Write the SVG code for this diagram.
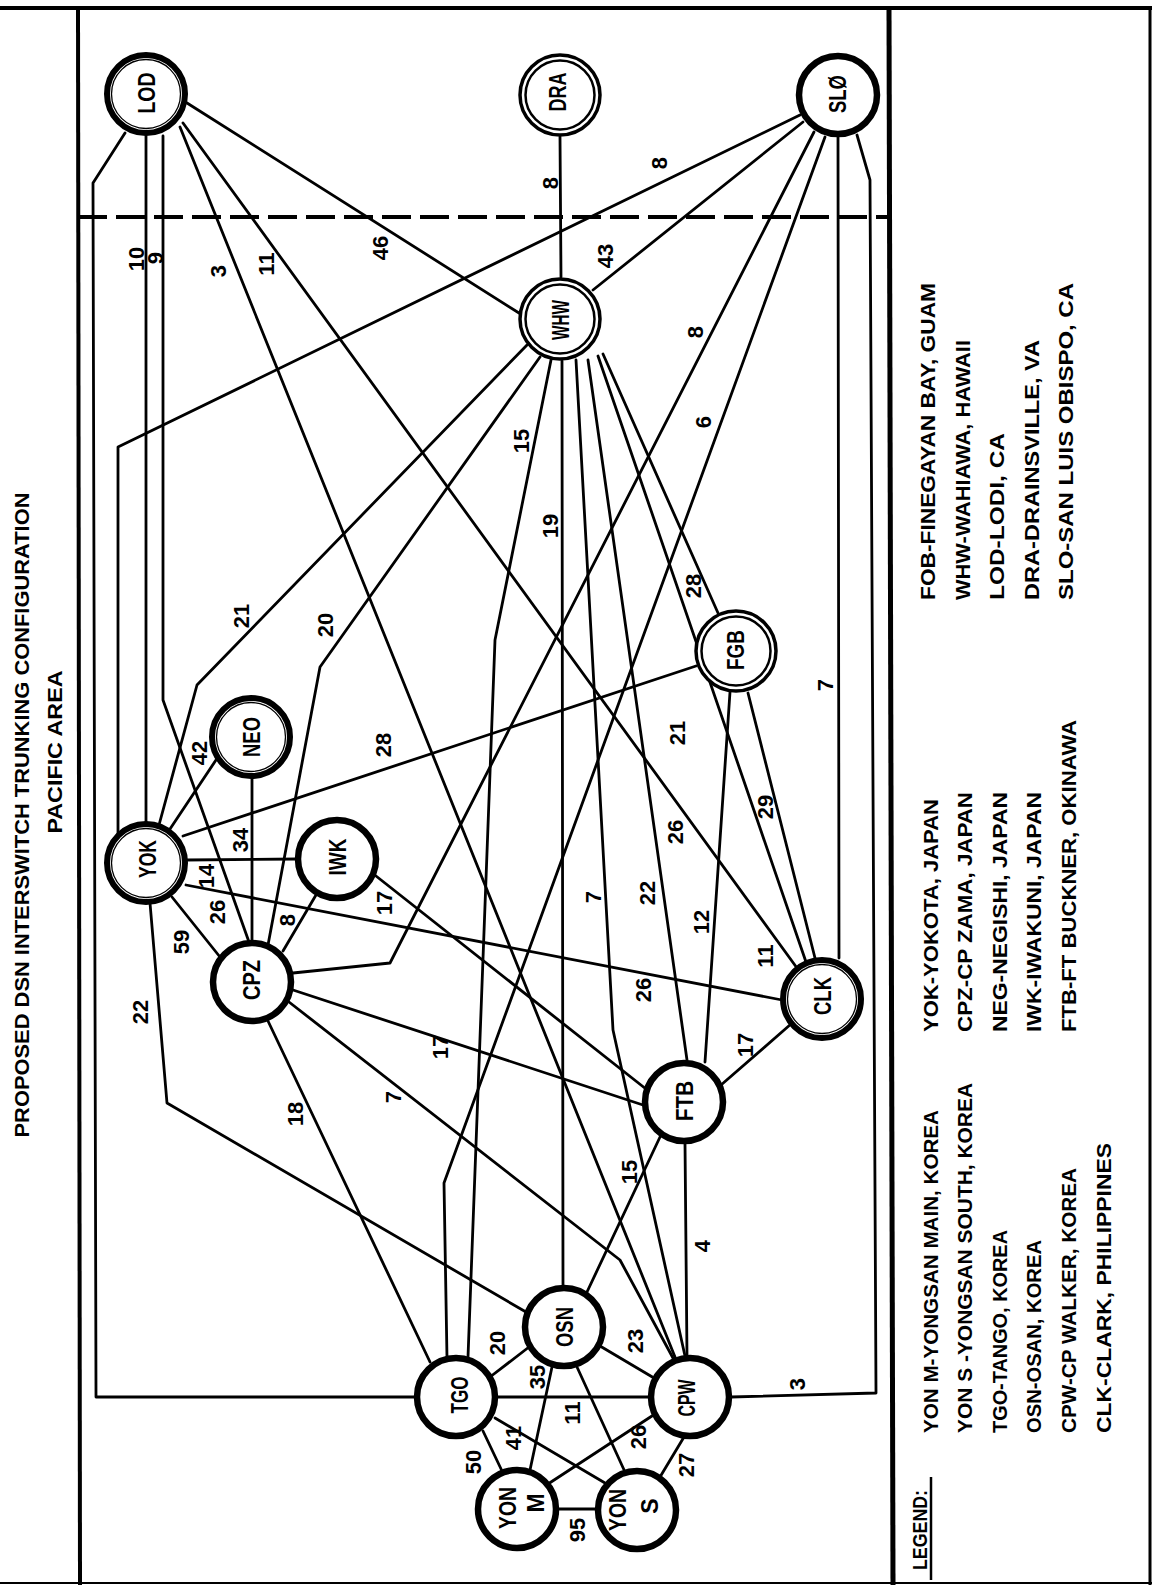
<svg xmlns="http://www.w3.org/2000/svg" width="1152" height="1585" viewBox="0 0 1152 1585">
<style>
.f{fill:none;stroke:#000;stroke-width:4}
.e{fill:none;stroke:#000;stroke-width:2.8;stroke-linejoin:round;stroke-linecap:round}
.ra{fill:#fff;stroke:#000;stroke-width:6}
.ri{fill:none;stroke:#000;stroke-width:1.3}
.rb{fill:#fff;stroke:#000;stroke-width:3.5}
.rbi{fill:none;stroke:#000;stroke-width:2.5}
.rc{fill:#fff;stroke:#000;stroke-width:6.5}
text{font-family:"Liberation Sans",Arial,sans-serif;font-weight:bold;font-size:21px;fill:#000}
.c{text-anchor:middle;dominant-baseline:central}
.n{font-size:23px}
.l{font-size:22px}
</style>
<rect width="1152" height="1585" fill="#fff"/>
<g id="frame">
<line class="f" x1="0" y1="8" x2="1152" y2="8"/>
<line class="f" x1="78" y1="8" x2="80" y2="1585"/>
<line class="f" x1="889" y1="8" x2="893" y2="1585" style="stroke-width:5"/>
<line class="f" x1="1150" y1="8" x2="1150" y2="1585" style="stroke-width:3"/>
<line class="f" x1="0" y1="1583" x2="1152" y2="1583" style="stroke-width:2"/>
<line class="f" x1="78" y1="217" x2="889" y2="217" stroke-dasharray="29 9"/>
</g>
<g id="title">
<text class="c" x="21" y="815" transform="rotate(-90 21 815)" textLength="645" lengthAdjust="spacingAndGlyphs" style="font-weight:600">PROPOSED DSN INTERSWITCH TRUNKING CONFIGURATION</text>
<text class="c" x="54" y="752" transform="rotate(-90 54 752)" textLength="163" lengthAdjust="spacingAndGlyphs" style="font-weight:600">PACIFIC AREA</text>
</g>
<g id="connectors">
<polyline class="e" points="125,133 93,183 96,1397 416,1397"/>
<polyline class="e" points="146,136 146,823"/>
<polyline class="e" points="163,136 163,700 249,942"/>
<polyline class="e" points="180,127 675,1357"/>
<polyline class="e" points="183,123 797,968"/>
<polyline class="e" points="187,103 519,313"/>
<polyline class="e" points="560,137 561,277"/>
<polyline class="e" points="803,122 593,290"/>
<polyline class="e" points="800,115 118,447 118,834"/>
<polyline class="e" points="814,132 390,963 293,973"/>
<polyline class="e" points="825,137 444,1183 447,1358"/>
<polyline class="e" points="838,137 839,958"/>
<polyline class="e" points="857,135 870,180 876,1393 731,1397"/>
<polyline class="e" points="527,345 197,685 159,825"/>
<polyline class="e" points="540,357 320,667 268,945"/>
<polyline class="e" points="551,360 495,640 468,1357"/>
<polyline class="e" points="562,361 563,1286"/>
<polyline class="e" points="576,360 613,1030 685,1356"/>
<polyline class="e" points="588,360 687,1060"/>
<polyline class="e" points="598,356 806,962"/>
<polyline class="e" points="603,354 718,613"/>
<polyline class="e" points="696,666 183,836"/>
<polyline class="e" points="218,757 170,829"/>
<polyline class="e" points="252,779 252,941"/>
<polyline class="e" points="186,860 297,859"/>
<polyline class="e" points="172,897 220,957"/>
<polyline class="e" points="186,885 782,1000"/>
<polyline class="e" points="316,895 283,951"/>
<polyline class="e" points="376,876 646,1089"/>
<polyline class="e" points="293,990 643,1105"/>
<polyline class="e" points="268,1021 430,1362"/>
<polyline class="e" points="289,1002 620,1260 673,1358"/>
<polyline class="e" points="150,903 167,1103 526,1312"/>
<polyline class="e" points="587,1292 660,1137"/>
<polyline class="e" points="685,1143 687,1356"/>
<polyline class="e" points="721,1085 791,1024"/>
<polyline class="e" points="730,692 705,1062"/>
<polyline class="e" points="748,693 815,958"/>
<polyline class="e" points="490,1377 529,1347"/>
<polyline class="e" points="497,1397 649,1397"/>
<polyline class="e" points="600,1346 654,1378"/>
<polyline class="e" points="552,1367 530,1470"/>
<polyline class="e" points="577,1367 625,1472"/>
<polyline class="e" points="483,1431 502,1471"/>
<polyline class="e" points="495,1418 605,1483"/>
<polyline class="e" points="655,1414 548,1484"/>
<polyline class="e" points="684,1437 660,1477"/>
<polyline class="e" points="557,1509 597,1509"/>
</g>
<g id="edge-labels" class="l">
<text class="c l" x="136" y="259" transform="rotate(-90 136 259)">10</text>
<text class="c l" x="155" y="258" transform="rotate(-90 155 258)">9</text>
<text class="c l" x="218" y="271" transform="rotate(-90 218 271)">3</text>
<text class="c l" x="266" y="264" transform="rotate(-90 266 264)">11</text>
<text class="c l" x="380" y="248" transform="rotate(-90 380 248)">46</text>
<text class="c l" x="550" y="183" transform="rotate(-90 550 183)">8</text>
<text class="c l" x="659" y="163" transform="rotate(-90 659 163)">8</text>
<text class="c l" x="605" y="256" transform="rotate(-90 605 256)">43</text>
<text class="c l" x="695" y="332" transform="rotate(-90 695 332)">8</text>
<text class="c l" x="703" y="422" transform="rotate(-90 703 422)">6</text>
<text class="c l" x="521" y="441" transform="rotate(-90 521 441)">15</text>
<text class="c l" x="550" y="526" transform="rotate(-90 550 526)">19</text>
<text class="c l" x="693" y="586" transform="rotate(-90 693 586)">28</text>
<text class="c l" x="677" y="733" transform="rotate(-90 677 733)">21</text>
<text class="c l" x="765" y="807" transform="rotate(-90 765 807)">29</text>
<text class="c l" x="241" y="616" transform="rotate(-90 241 616)">21</text>
<text class="c l" x="325" y="625" transform="rotate(-90 325 625)">20</text>
<text class="c l" x="199" y="753" transform="rotate(-90 199 753)">42</text>
<text class="c l" x="383" y="745" transform="rotate(-90 383 745)">28</text>
<text class="c l" x="240" y="840" transform="rotate(-90 240 840)">34</text>
<text class="c l" x="206" y="876" transform="rotate(-90 206 876)">14</text>
<text class="c l" x="181" y="942" transform="rotate(-90 181 942)">59</text>
<text class="c l" x="217" y="912" transform="rotate(-90 217 912)">26</text>
<text class="c l" x="287" y="920" transform="rotate(-90 287 920)">8</text>
<text class="c l" x="384" y="903" transform="rotate(-90 384 903)">17</text>
<text class="c l" x="140" y="1012" transform="rotate(-90 140 1012)">22</text>
<text class="c l" x="295" y="1114" transform="rotate(-90 295 1114)">18</text>
<text class="c l" x="393" y="1097" transform="rotate(-90 393 1097)">7</text>
<text class="c l" x="440" y="1047" transform="rotate(-90 440 1047)">17</text>
<text class="c l" x="593" y="897" transform="rotate(-90 593 897)">7</text>
<text class="c l" x="647" y="893" transform="rotate(-90 647 893)">22</text>
<text class="c l" x="675" y="832" transform="rotate(-90 675 832)">26</text>
<text class="c l" x="701" y="922" transform="rotate(-90 701 922)">12</text>
<text class="c l" x="765" y="956" transform="rotate(-90 765 956)">11</text>
<text class="c l" x="643" y="990" transform="rotate(-90 643 990)">26</text>
<text class="c l" x="745" y="1045" transform="rotate(-90 745 1045)">17</text>
<text class="c l" x="629" y="1172" transform="rotate(-90 629 1172)">15</text>
<text class="c l" x="702" y="1246" transform="rotate(-90 702 1246)">4</text>
<text class="c l" x="497" y="1343" transform="rotate(-90 497 1343)">20</text>
<text class="c l" x="635" y="1341" transform="rotate(-90 635 1341)">23</text>
<text class="c l" x="537" y="1377" transform="rotate(-90 537 1377)">35</text>
<text class="c l" x="572" y="1413" transform="rotate(-90 572 1413)">11</text>
<text class="c l" x="513" y="1438" transform="rotate(-90 513 1438)">41</text>
<text class="c l" x="473" y="1462" transform="rotate(-90 473 1462)">50</text>
<text class="c l" x="638" y="1437" transform="rotate(-90 638 1437)">26</text>
<text class="c l" x="686" y="1465" transform="rotate(-90 686 1465)">27</text>
<text class="c l" x="577" y="1530" transform="rotate(-90 577 1530)">95</text>
<text class="c l" x="797" y="1384" transform="rotate(-90 797 1384)">3</text>
<text class="c l" x="825" y="685" transform="rotate(-90 825 685)">7</text>
</g>
<g id="node-LOD"><circle class="ra" cx="146" cy="94" r="39"/><circle class="ri" cx="146" cy="94" r="34.5"/><text class="c n" x="147" y="93" transform="rotate(-90 147 93)" textLength="41" lengthAdjust="spacingAndGlyphs">LOD</text></g>
<g id="node-DRA"><circle class="rb" cx="560" cy="95" r="40"/><circle class="rbi" cx="560" cy="95" r="34.5"/><text class="c n" x="558" y="92" transform="rotate(-90 558 92)" textLength="39" lengthAdjust="spacingAndGlyphs">DRA</text></g>
<g id="node-SLO"><circle class="rc" cx="838" cy="95" r="39"/><text class="c n" x="838" y="94" transform="rotate(-90 838 94)" textLength="38" lengthAdjust="spacingAndGlyphs">SLØ</text></g>
<g id="node-WHW"><circle class="rb" cx="560" cy="319" r="40"/><circle class="rbi" cx="560" cy="319" r="34.5"/><text class="c n" x="561" y="320" transform="rotate(-90 561 320)" textLength="40" lengthAdjust="spacingAndGlyphs">WHW</text></g>
<g id="node-FGB"><circle class="rb" cx="736" cy="651" r="40"/><circle class="rbi" cx="736" cy="651" r="34.5"/><text class="c n" x="736" y="650" transform="rotate(-90 736 650)" textLength="40" lengthAdjust="spacingAndGlyphs">FGB</text></g>
<g id="node-NEO"><circle class="ra" cx="251" cy="737" r="39"/><circle class="ri" cx="251" cy="737" r="34.5"/><text class="c n" x="252" y="737" transform="rotate(-90 252 737)" textLength="40" lengthAdjust="spacingAndGlyphs">NEO</text></g>
<g id="node-YOK"><circle class="ra" cx="146" cy="863" r="39"/><circle class="ri" cx="146" cy="863" r="34.5"/><text class="c n" x="148" y="859" transform="rotate(-90 148 859)" textLength="38" lengthAdjust="spacingAndGlyphs">YOK</text></g>
<g id="node-IWK"><circle class="rc" cx="337" cy="859" r="39"/><text class="c n" x="338" y="857" transform="rotate(-90 338 857)" textLength="37" lengthAdjust="spacingAndGlyphs">IWK</text></g>
<g id="node-CPZ"><circle class="rc" cx="252" cy="982" r="39"/><text class="c n" x="252" y="980" transform="rotate(-90 252 980)" textLength="40" lengthAdjust="spacingAndGlyphs">CPZ</text></g>
<g id="node-CLK"><circle class="ra" cx="822" cy="999" r="39"/><circle class="ri" cx="822" cy="999" r="34.5"/><text class="c n" x="823" y="996" transform="rotate(-90 823 996)" textLength="38" lengthAdjust="spacingAndGlyphs">CLK</text></g>
<g id="node-FTB"><circle class="rc" cx="684" cy="1102" r="39"/><text class="c n" x="685" y="1101" transform="rotate(-90 685 1101)" textLength="40" lengthAdjust="spacingAndGlyphs">FTB</text></g>
<g id="node-OSN"><circle class="rc" cx="564" cy="1327" r="39"/><text class="c n" x="565" y="1327" transform="rotate(-90 565 1327)" textLength="40" lengthAdjust="spacingAndGlyphs">OSN</text></g>
<g id="node-TGO"><circle class="rc" cx="456" cy="1397" r="39"/><text class="c n" x="460" y="1395" transform="rotate(-90 460 1395)" textLength="37" lengthAdjust="spacingAndGlyphs">TGO</text></g>
<g id="node-CPW"><circle class="rc" cx="690" cy="1397" r="39"/><text class="c n" x="687" y="1398" transform="rotate(-90 687 1398)" textLength="37" lengthAdjust="spacingAndGlyphs">CPW</text></g>
<g id="node-YONM"><circle class="rc" cx="517" cy="1509" r="39"/><text class="c n" x="508" y="1508" transform="rotate(-90 508 1508)" textLength="42" lengthAdjust="spacingAndGlyphs">YON</text><text class="c n" x="536" y="1503" transform="rotate(-90 536 1503)">M</text></g>
<g id="node-YONS"><circle class="rc" cx="637" cy="1510" r="39"/><text class="c n" x="618" y="1510" transform="rotate(-90 618 1510)" textLength="42" lengthAdjust="spacingAndGlyphs">YON</text><text class="c n" x="650" y="1506" transform="rotate(-90 650 1506)">S</text></g>
<g id="legend">
<text x="927" y="1570" transform="rotate(-90 927 1570)" textLength="80" lengthAdjust="spacingAndGlyphs">LEGEND:</text>
<line x1="931" y1="1477" x2="931" y2="1580" stroke="#000" stroke-width="2.5"/>
<text x="938" y="1433" transform="rotate(-90 938 1433)" textLength="323" lengthAdjust="spacingAndGlyphs">YON M-YONGSAN MAIN, KOREA</text>
<text x="972" y="1433" transform="rotate(-90 972 1433)" textLength="350" lengthAdjust="spacingAndGlyphs">YON S -YONGSAN SOUTH, KOREA</text>
<text x="1007" y="1433" transform="rotate(-90 1007 1433)" textLength="203" lengthAdjust="spacingAndGlyphs">TGO-TANGO, KOREA</text>
<text x="1041" y="1433" transform="rotate(-90 1041 1433)" textLength="193" lengthAdjust="spacingAndGlyphs">OSN-OSAN, KOREA</text>
<text x="1076" y="1433" transform="rotate(-90 1076 1433)" textLength="265" lengthAdjust="spacingAndGlyphs">CPW-CP WALKER, KOREA</text>
<text x="1111" y="1433" transform="rotate(-90 1111 1433)" textLength="290" lengthAdjust="spacingAndGlyphs">CLK-CLARK, PHILIPPINES</text>
<text x="938" y="1032" transform="rotate(-90 938 1032)" textLength="233" lengthAdjust="spacingAndGlyphs">YOK-YOKOTA, JAPAN</text>
<text x="972" y="1032" transform="rotate(-90 972 1032)" textLength="240" lengthAdjust="spacingAndGlyphs">CPZ-CP ZAMA, JAPAN</text>
<text x="1007" y="1032" transform="rotate(-90 1007 1032)" textLength="240" lengthAdjust="spacingAndGlyphs">NEG-NEGISHI, JAPAN</text>
<text x="1041" y="1032" transform="rotate(-90 1041 1032)" textLength="240" lengthAdjust="spacingAndGlyphs">IWK-IWAKUNI, JAPAN</text>
<text x="1076" y="1032" transform="rotate(-90 1076 1032)" textLength="312" lengthAdjust="spacingAndGlyphs">FTB-FT BUCKNER, OKINAWA</text>
<text x="935" y="600" transform="rotate(-90 935 600)" textLength="317" lengthAdjust="spacingAndGlyphs">FOB-FINEGAYAN BAY, GUAM</text>
<text x="970" y="600" transform="rotate(-90 970 600)" textLength="260" lengthAdjust="spacingAndGlyphs">WHW-WAHIAWA, HAWAII</text>
<text x="1004" y="600" transform="rotate(-90 1004 600)" textLength="167" lengthAdjust="spacingAndGlyphs">LOD-LODI, CA</text>
<text x="1039" y="600" transform="rotate(-90 1039 600)" textLength="260" lengthAdjust="spacingAndGlyphs">DRA-DRAINSVILLE, VA</text>
<text x="1073" y="600" transform="rotate(-90 1073 600)" textLength="317" lengthAdjust="spacingAndGlyphs">SLO-SAN LUIS OBISPO, CA</text>
</g>
</svg>
